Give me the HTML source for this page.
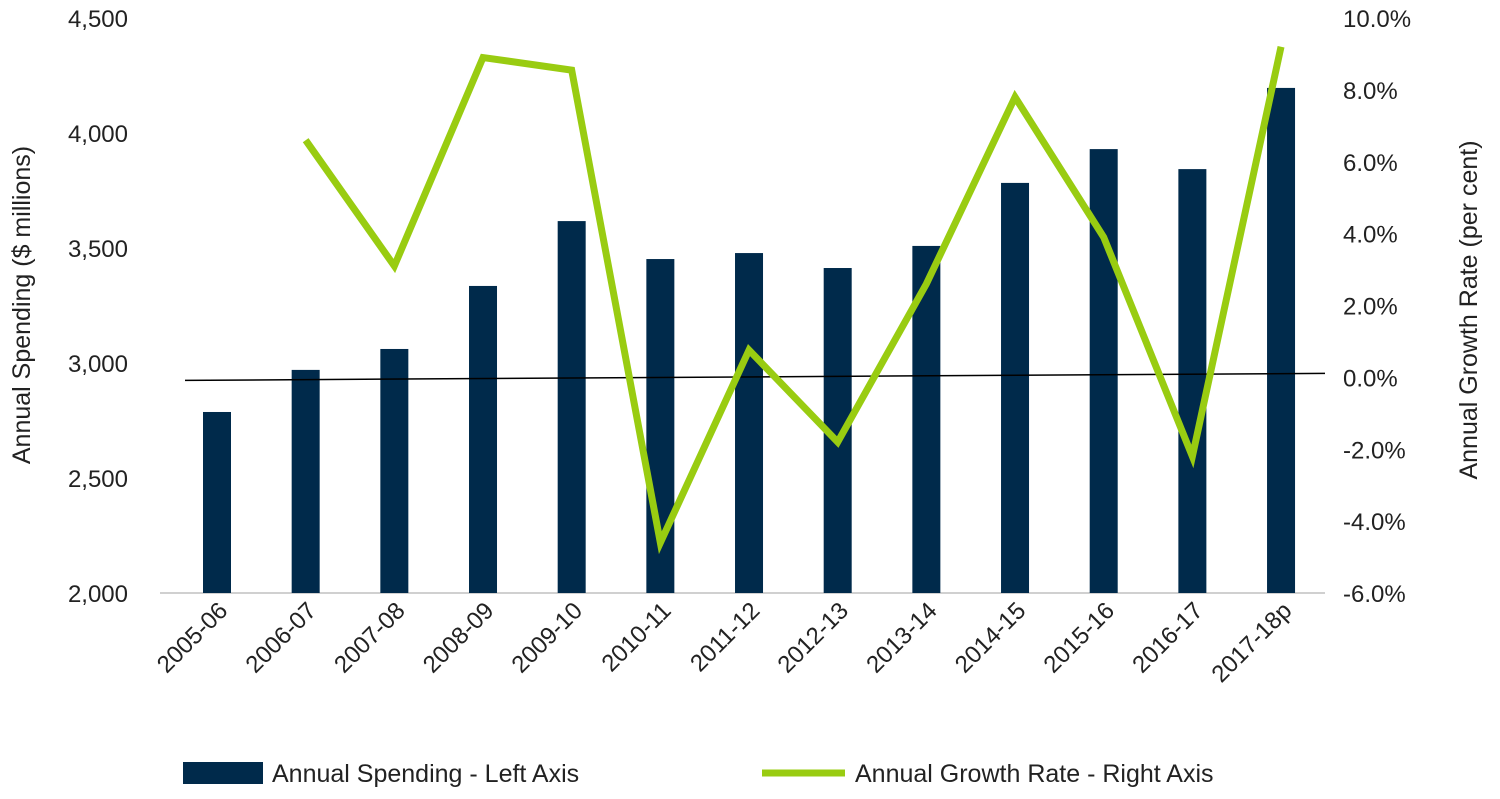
<!DOCTYPE html>
<html><head><meta charset="utf-8"><style>
body{margin:0;background:#fff;}
svg text{font-family:"Liberation Sans",sans-serif;fill:#222;}
</style></head><body>
<svg id="chart" width="1500" height="794" xmlns="http://www.w3.org/2000/svg"></svg>
<script>
const categories=["2005-06","2006-07","2007-08","2008-09","2009-10","2010-11","2011-12","2012-13","2013-14","2014-15","2015-16","2016-17","2017-18p"];
const spending=[2787,2970,3061,3335,3617,3452,3478,3413,3509,3783,3930,3843,4196];
const growth=[null,6.6,3.1,8.9,8.55,-4.6,0.76,-1.8,2.6,7.8,3.9,-2.2,9.2];
const leftTicks=[2000,2500,3000,3500,4000,4500];
const rightTicks=[-6,-4,-2,0,2,4,6,8,10];
const NS="http://www.w3.org/2000/svg";
const svg=document.getElementById('chart');
const yTop=18,yBot=593;
const yL=v=>yBot-(v-2000)/2500*(yBot-yTop);
const yR=v=>yBot-(v+6)/16*(yBot-yTop);
const xC=i=>217+i*88.67;
function mk(t,a,p){const e=document.createElementNS(NS,t);for(const k in a)e.setAttribute(k,a[k]);(p||svg).appendChild(e);return e;}
const ga=mk('g',{});


leftTicks.forEach(v=>{const t=mk('text',{x:128,y:yL(v)+9,'text-anchor':'end','font-size':24},ga);t.textContent=v.toLocaleString('en-US');

});
const gr=mk('g',{});


rightTicks.forEach(v=>{const t=mk('text',{x:1343,y:yR(v)+9,'font-size':24},gr);t.textContent=v.toFixed(1)+'%';

});
const lt=mk('text',{x:0,y:0,'font-size':25,'text-anchor':'middle',transform:'translate(30,305) rotate(-90)'});lt.textContent='Annual Spending ($ millions)';


const rt=mk('text',{x:0,y:0,'font-size':25,'text-anchor':'middle',transform:'translate(1477,310) rotate(-90)'});rt.textContent='Annual Growth Rate (per cent)';


const base=mk('line',{x1:160,x2:1325,y1:yBot,y2:yBot,stroke:'#d0d0d0','stroke-width':2});


spending.forEach((v,i)=>{const r=mk('rect',{x:xC(i)-14,y:yL(v),width:28,height:yBot-yL(v),fill:'#002a4b'});

});
const z=mk('line',{x1:185,x2:1325,y1:yR(0)+3,y2:yR(0)-4,stroke:'#000','stroke-width':1.5});


let d='';growth.forEach((v,i)=>{if(v===null)return;d+=(d?'L':'M')+xC(i)+','+yR(v);});
const pl=mk('path',{d:d,fill:'none',stroke:'#99cc11','stroke-width':7,'stroke-linejoin':'miter'});


categories.forEach((c,i)=>{const t=mk('text',{x:0,y:0,'font-size':24,'text-anchor':'end',transform:`translate(${xC(i)+12},612) rotate(-45)`});t.textContent=c;

});
const lg=mk('g',{});


const r1=mk('rect',{x:183,y:762,width:80,height:22,fill:'#002a4b'},lg);


const t1=mk('text',{x:272,y:782,'font-size':25},lg);t1.textContent='Annual Spending - Left Axis';


const l2=mk('line',{x1:762,x2:845,y1:773,y2:773,stroke:'#99cc11','stroke-width':7},lg);


const t2=mk('text',{x:855,y:782,'font-size':25},lg);t2.textContent='Annual Growth Rate - Right Axis';


</script>
</body></html>
